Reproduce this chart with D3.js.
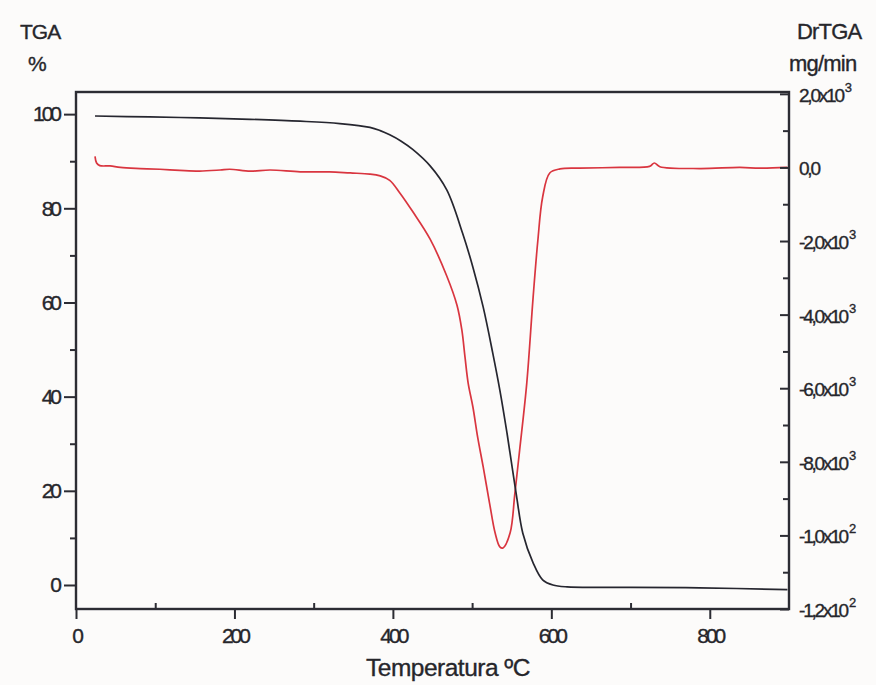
<!DOCTYPE html>
<html><head><meta charset="utf-8">
<script src="https://cdn.jsdelivr.net/npm/d3@7/dist/d3.min.js"></script>
<style>
html,body{margin:0;padding:0;background:#fcfbfa;}
text{font-family:"Liberation Sans",Arial,sans-serif;fill:#26262b;stroke:#26262b;stroke-width:0.35px;}
</style></head>
<body><svg id="c" width="876" height="685"></svg>
<script>
// Temperature (°C) and TGA mass (%)
const tgaT   = [24, 93, 156, 220, 283, 333, 371, 384, 396, 410, 425, 447, 468, 488, 501, 514, 526, 535, 544, 551, 556, 564, 577, 589, 602, 620, 661, 700, 787, 898];
const tgaPct = [99.6, 99.4, 99.2, 98.9, 98.5, 98.0, 97.2, 96.5, 95.6, 94.3, 92.5, 89.0, 83.9, 74.7, 67.5, 59.0, 49.3, 41.4, 32.3, 24.5, 19.0, 11.0, 4.7, 1.1, 0.0, -0.4, -0.5, -0.5, -0.6, -1.0];
// Temperature (°C) and DrTGA (x10^-3 mg/min)
const dtgT   = [24, 26, 30, 43, 56, 81, 106, 131, 156, 182, 194, 220, 245, 283, 320, 346, 371, 384, 396, 409, 425, 447, 468, 481, 487, 491, 495, 501, 507, 514, 522, 529, 535, 539, 548, 554, 560, 569, 577, 583, 589, 598, 611, 636, 686, 724, 730, 737, 787, 838, 863, 898];
const dtgVal = [0.3, 0.12, 0.05, 0.04, 0.0, -0.03, -0.05, -0.08, -0.1, -0.07, -0.05, -0.1, -0.07, -0.12, -0.12, -0.15, -0.18, -0.23, -0.35, -0.7, -1.2, -1.95, -2.95, -3.75, -4.41, -5.15, -5.86, -6.51, -7.33, -8.14, -9.12, -9.93, -10.31, -10.34, -9.93, -8.85, -7.68, -5.86, -3.53, -1.98, -0.81, -0.15, -0.04, -0.02, 0.0, 0.03, 0.12, 0.02, -0.03, 0.0, -0.02, 0.0];
// tick labels
const xTicks = [0, 200, 400, 600, 800];
const xTickLabels = ["0", "200", "400", "600", "800"];
const yLTicks = [0, 20, 40, 60, 80, 100];
const yLTickLabels = ["0", "20", "40", "60", "80", "100"];
const yRTicks = [2, 0, -2, -4, -6, -8, -10, -12];
const yRTickBase = ["2,0x10", "0,0", "-2,0x10", "-4,0x10", "-6,0x10", "-8,0x10", "-1,0x10", "-1,2x10"];
const yRTickExp  = ["3", "", "3", "3", "3", "3", "2", "2"];

const svg = d3.select("#c");
const L = 76, R = 789, T = 92, B = 609;
const x = d3.scaleLinear().domain([0, 900]).range([L, R]);
const yL = d3.scaleLinear().domain([-5.1, 104.7]).range([B, T]);
const yR = d3.scaleLinear().domain([-12, 2.05]).range([B, T]);
const ink = "#2c2c33";

// curves
const tgaData = tgaT.map((t, i) => [t, tgaPct[i]]);
const dtgData = dtgT.map((t, i) => [t, dtgVal[i]]);
svg.append("path").datum(dtgData)
  .attr("d", d3.line().x(d => x(d[0])).y(d => yR(d[1])).curve(d3.curveCatmullRom))
  .attr("fill", "none").attr("stroke", "#d9353f").attr("stroke-width", 1.7);
svg.append("path").datum(tgaData)
  .attr("d", d3.line().x(d => x(d[0])).y(d => yL(d[1])).curve(d3.curveCatmullRom))
  .attr("fill", "none").attr("stroke", "#26262f").attr("stroke-width", 1.7);

// frame
svg.append("rect").attr("x", L).attr("y", T).attr("width", R - L).attr("height", B - T)
  .attr("fill", "none").attr("stroke", ink).attr("stroke-width", 2.4);

// bottom axis
const gx = svg.append("g").attr("transform", `translate(0,${B})`);
gx.call(d3.axisBottom(x).tickValues(xTicks).tickSize(10).tickFormat((d, i) => xTickLabels[i]));
gx.append("g").call(d3.axisTop(x).tickValues([100, 300, 500, 700]).tickSize(6).tickFormat(""));
// left axis
const gl = svg.append("g").attr("transform", `translate(${L},0)`);
gl.call(d3.axisLeft(yL).tickValues(yLTicks).tickSize(12).tickFormat((d, i) => yLTickLabels[i]));
gl.append("g").call(d3.axisLeft(yL).tickValues([10, 30, 50, 70, 90]).tickSize(6).tickFormat(""));
// right axis (ticks inward)
const gr = svg.append("g").attr("transform", `translate(${R},0)`);
gr.call(d3.axisLeft(yR).tickValues(yRTicks).tickSize(9).tickFormat(""));
gr.append("g").call(d3.axisLeft(yR).tickValues([1, -1, -3, -5, -7, -9, -11]).tickSize(6).tickFormat(""));

svg.selectAll(".domain").style("stroke", "none");
svg.selectAll(".tick line").style("stroke", ink).style("stroke-width", "2px");

gx.selectAll(".tick text").attr("font-size", 21).attr("letter-spacing", "-3px").attr("dy", "1.0em").style("fill", "#26262b");
gl.selectAll(".tick text").attr("font-size", 21).attr("letter-spacing", "-3px").attr("dx", "-2px").style("fill", "#26262b");

// right labels
yRTicks.forEach((v, i) => {
  const t = svg.append("text").attr("x", R + 10).attr("y", yR(v) + 8)
    .attr("font-size", 19).attr("letter-spacing", "-2.2px");
  t.append("tspan").text(yRTickBase[i]);
  if (yRTickExp[i]) t.append("tspan").attr("dy", -10).attr("font-size", 13).attr("dx", 2).text(yRTickExp[i]);
});

// titles
svg.append("text").attr("x", 20).attr("y", 39).attr("font-size", 21).attr("letter-spacing", "-1px").text("TGA");
svg.append("text").attr("x", 28).attr("y", 71).attr("font-size", 21).text("%");
svg.append("text").attr("x", 797).attr("y", 39).attr("font-size", 22).attr("letter-spacing", "-0.8px").text("DrTGA");
svg.append("text").attr("x", 789).attr("y", 71).attr("font-size", 22).attr("letter-spacing", "-0.8px").text("mg/min");
svg.append("text").attr("x", 366).attr("y", 676).attr("font-size", 24.5).attr("letter-spacing", "-0.5px").text("Temperatura ºC");
</script></body></html>
